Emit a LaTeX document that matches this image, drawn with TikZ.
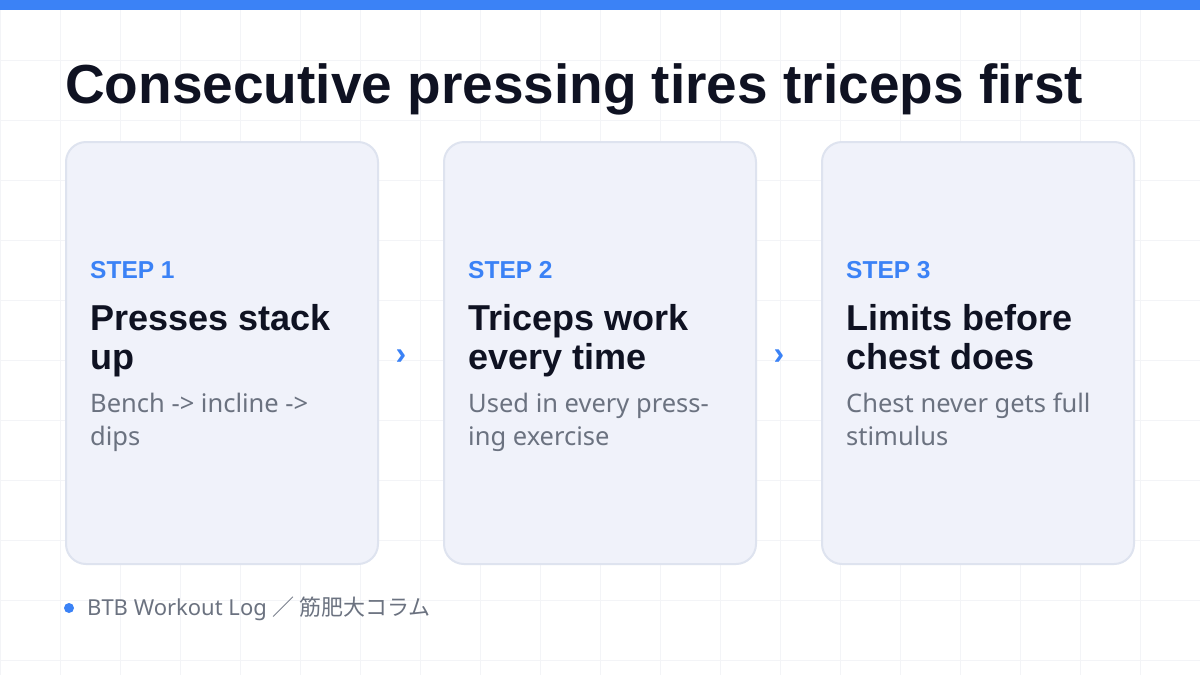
\documentclass[tikz,border=0pt]{standalone}
\usepackage{fontspec}
\usepackage{xcolor}
\usetikzlibrary{positioning,calc}
\setmainfont{Liberation Sans}
\newfontfamily\bodyfont{Noto Sans}
\newfontfamily\jpfont{Noto Sans CJK JP}
\definecolor{stepblue}{RGB}{59,130,246}
\definecolor{titleink}{RGB}{15,18,34}
\definecolor{bodygray}{RGB}{107,114,128}
\definecolor{cardfill}{RGB}{240,242,250}
\definecolor{cardline}{RGB}{222,227,239}
\definecolor{gridgray}{RGB}{243,244,247}

\tikzset{
    card/.style={draw=cardline, line width=2pt, fill=cardfill, rounded corners=20pt,
        minimum width=312pt, minimum height=422pt, inner sep=0pt},
    steplabel/.style={anchor=base west, inner sep=0pt, text=stepblue,
        font=\fontsize{24.5}{28}\selectfont\bfseries},
    steptitle/.style={anchor=base west, inner sep=0pt, align=left, text=titleink,
        font=\fontsize{36}{39}\selectfont\bfseries},
    stepbody/.style={anchor=base west, inner sep=0pt, align=left, text=bodygray,
        font=\bodyfont\fontsize{25.5}{33}\selectfont},
    chevron/.style={inner sep=0pt, text=stepblue, font=\fontsize{32}{32}\selectfont\bfseries}
}

\begin{document}
\begin{tikzpicture}[x=1pt, y=-1pt]
    \useasboundingbox (0,0) rectangle (1200,675);
    \fill[white] (0,0) rectangle (1200,675);
    \draw[gridgray, line width=1pt, step=60pt] (0,0) grid (1200,675);
    \fill[stepblue] (0,0) rectangle (1200,10);

    % Title
    \node[anchor=base west, inner sep=0pt, text=titleink, font=\fontsize{55}{60}\selectfont\bfseries]
        (title) at (65,103) {Consecutive pressing tires triceps first};

    % Step 1
    \node[card] (card1) at (222,353) {};
    \node[steplabel] (label1) at (90,278) {STEP 1};
    \node[steptitle] (head1) at (90,369) {Presses stack\\up};
    \node[stepbody] (body1) at (90,445) {Bench -> incline ->\\dips};

    % Step 2
    \node[card] (card2) at (600,353) {};
    \node[steplabel] (label2) at (468,278) {STEP 2};
    \node[steptitle] (head2) at (468,369) {Triceps work\\every time};
    \node[stepbody] (body2) at (468,445) {Used in every press-\\ing exercise};

    % Step 3
    \node[card] (card3) at (978,353) {};
    \node[steplabel] (label3) at (846,278) {STEP 3};
    \node[steptitle] (head3) at (846,369) {Limits before\\chest does};
    \node[stepbody] (body3) at (846,445) {Chest never gets full\\stimulus};

    % Chevrons between the steps
    \node[chevron] (next1) at (401,357) {›};
    \node[chevron] (next2) at (779,357) {›};

    % Footer
    \fill[stepblue] (69,608) circle (5);
    \node[anchor=base west, inner sep=0pt, text=bodygray, font=\bodyfont\fontsize{22}{24}\selectfont]
        (footer) at (87,615) {BTB Workout Log {\jpfont ／ 筋肥大コラム}};
\end{tikzpicture}
\end{document}
